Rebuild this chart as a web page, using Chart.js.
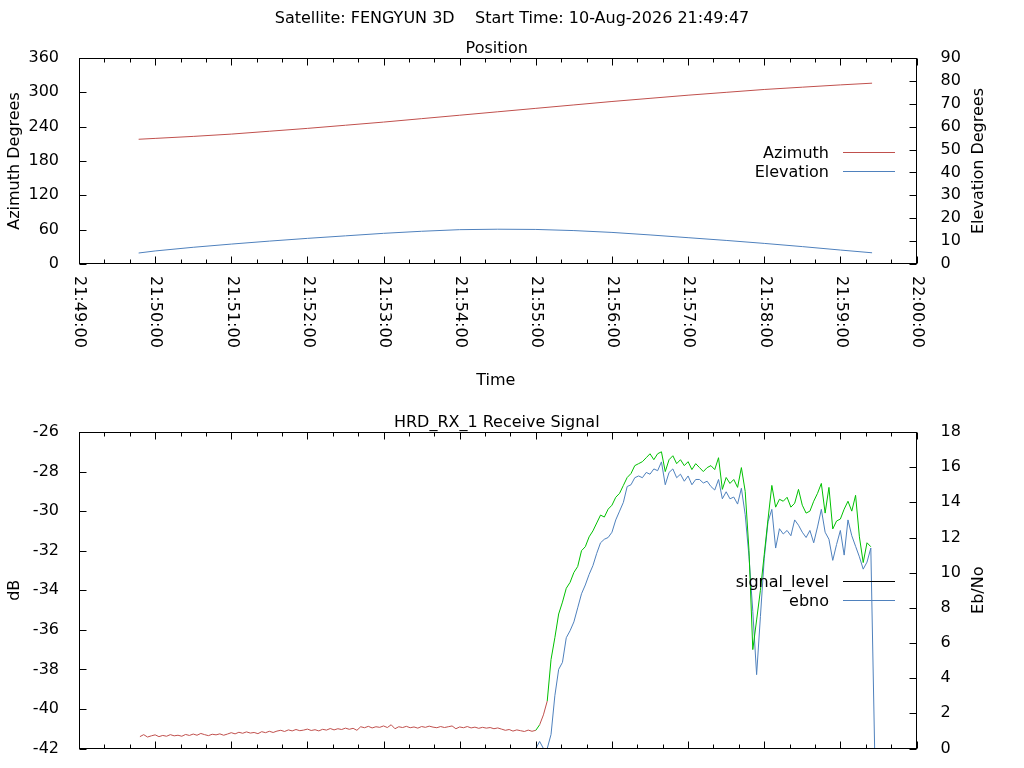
<!DOCTYPE html>
<html>
<head>
<meta charset="utf-8">
<title>FENGYUN 3D pass</title>
<script src="https://cdn.jsdelivr.net/npm/chart.js@4/dist/chart.umd.min.js"></script>
<style>
  html, body { margin: 0; padding: 0; background: #fff; }
  #wrap { position: relative; width: 1024px; height: 768px; overflow: hidden; }
  canvas { position: absolute; left: 0; }
  #posChart { top: 0; }
  #sigChart { top: 400px; }
</style>
</head>
<body>
<div id="wrap">
  <canvas id="posChart" width="1024" height="400"></canvas>
  <canvas id="sigChart" width="1024" height="400"></canvas>
</div>
<script>
// x axis is seconds after 21:49:00
const timeTicks = ['21:49:00', '21:50:00', '21:51:00', '21:52:00', '21:53:00', '21:54:00',
    '21:55:00', '21:56:00', '21:57:00', '21:58:00', '21:59:00', '22:00:00'];

// position samples
const posTimes = [47, 60, 90, 120, 150, 180, 210, 240, 270, 300, 330, 360, 390, 420,
    450, 480, 510, 540, 570, 600, 625];
const azimuth = [218, 219.5, 223, 227, 232, 237, 242.5, 248, 254, 260, 266, 272, 278, 284,
    289.5, 295, 300, 305, 309, 313, 316];
const elevation = [4.8, 5.7, 7.3, 8.7, 10.0, 11.2, 12.3, 13.4, 14.3, 15.0, 15.2, 15.1, 14.6, 13.8,
    12.7, 11.5, 10.3, 9.0, 7.6, 6.1, 4.9];

// receive signal, one sample every 3 s from 21:49:48
const sigStart = 48;
const sigStep = 3;
const signalLevel = [
    -41.40, -41.30, -41.42, -41.36, -41.31, -41.40, -41.34, -41.38, -41.30, -41.36,
    -41.33, -41.38, -41.29, -41.34, -41.27, -41.33, -41.24, -41.30, -41.35, -41.28,
    -41.31, -41.26, -41.33, -41.27, -41.20, -41.26, -41.18, -41.23, -41.16, -41.22,
    -41.19, -41.25, -41.15, -41.20, -41.13, -41.19, -41.12, -41.08, -41.14, -41.06,
    -41.11, -41.04, -41.10, -41.07, -41.02, -41.09, -41.05, -41.11, -41.03, -41.07,
    -40.99, -41.06, -41.00, -41.04, -40.97, -41.03, -40.98, -41.08, -40.90, -40.95,
    -40.88, -40.96, -40.90, -40.93, -40.86, -40.94, -40.80, -41.00, -40.90, -40.94,
    -40.88, -40.95, -40.91, -40.97, -40.89, -40.93, -40.87, -40.92, -40.95, -40.89,
    -40.94, -40.90, -40.86, -41.00, -40.91, -40.95, -40.89, -40.96, -40.92, -40.98,
    -40.93, -40.97, -40.94, -41.00, -40.96, -41.02, -41.08, -41.04, -41.12, -41.06,
    -41.10, -41.14, -41.07, -41.13, -41.08, -40.80, -40.30, -39.60, -37.50, -36.40,
    -35.20, -34.60, -33.90, -33.60, -33.10, -32.80, -32.00, -31.80, -31.30, -31.00,
    -30.60, -30.20, -30.30, -29.90, -29.70, -29.30, -29.10, -28.70, -28.30, -28.10,
    -27.70, -27.60, -27.50, -27.30, -27.10, -27.40, -27.10, -27.00, -28.00, -27.40,
    -27.20, -27.60, -27.40, -27.70, -27.50, -27.90, -27.60, -27.80, -28.00, -27.80,
    -27.70, -27.90, -27.30, -28.90, -28.30, -28.60, -28.40, -28.80, -27.80, -29.00,
    -32.00, -37.00, -35.50, -34.00, -32.20, -30.40, -28.70, -29.80, -29.40, -29.50,
    -29.30, -29.80, -29.60, -28.90, -29.70, -30.10, -30.00, -29.50, -29.10, -28.60,
    -30.10, -28.80, -30.90, -30.50, -30.40, -29.90, -29.50, -30.00, -29.20, -31.30,
    -32.60, -31.60, -31.80, null
];
// Eb/No exists from sample 104 on (modem lock)
const ebnoFrom = 104;
const ebno = [
    0, 0.4, 0, 0, 0.8, 3.0,
    4.5, 4.9, 6.3, 6.7, 7.2, 8.0, 8.8, 9.3, 9.9, 10.4,
    11.1, 11.7, 11.9, 12.0, 12.3, 13.0, 13.5, 14.0, 14.9, 15.0,
    15.4, 15.5, 15.4, 15.7, 15.6, 15.9, 15.8, 16.3, 15.0, 15.7,
    15.9, 15.4, 15.6, 15.2, 15.5, 15.0, 15.3, 15.3, 15.1, 15.2,
    14.9, 14.7, 15.3, 14.2, 14.6, 14.2, 14.3, 13.9, 14.8, 13.3,
    10.9, 7.8, 4.2, 7.5, 10.8, 12.9, 13.6, 11.4, 12.5, 12.2,
    12.4, 12.1, 13.0, 12.7, 12.3, 12.0, 12.4, 11.7, 12.6, 13.6,
    12.3, 11.9, 10.7, 11.6, 12.4, 11.0, 13.0, 12.1, 11.5, 10.9,
    10.2, 10.6, 11.4, 0
];

const RED = '#c0504d';
const BLUE = '#4f81bd';
const GREEN = '#00c000';
const FONT = '16px "DejaVu Sans"';

Chart.defaults.font.family = '"DejaVu Sans"';
Chart.defaults.font.size = 16;
Chart.defaults.color = '#000';

function sigTime(i) {
    return sigStart + i * sigStep;
}

// gnuplot style frame, inward tics, titles and key
const gnuFrame = {
    id: 'gnuFrame',
    afterDatasetsDraw(chart, args, o) {
        const { ctx, chartArea: a } = chart;
        const xs = chart.scales.x;
        const L = Math.round(a.left) + 0.5;
        const R = Math.round(a.right) - 0.5;
        const T = Math.round(a.top) + 0.5;
        const B = Math.round(a.bottom) - 0.5;

        const line = (x1, y1, x2, y2) => {
            ctx.beginPath();
            ctx.moveTo(x1, y1);
            ctx.lineTo(x2, y2);
            ctx.stroke();
        };

        ctx.save();
        ctx.strokeStyle = '#000';
        ctx.lineWidth = 1;
        ctx.strokeRect(L, T, R - L, B - T);

        for (let s = 0; s <= 660; s += 20) {
            const px = Math.round(xs.getPixelForValue(s)) + 0.5;
            const len = s % 60 === 0 ? 7 : 4;
            line(px, B, px, B - len);
            line(px, T, px, T + len);
        }
        chart.scales.y.ticks.forEach(t => {
            const py = Math.round(chart.scales.y.getPixelForValue(t.value)) + 0.5;
            line(L, py, L + 7, py);
        });
        chart.scales.y2.ticks.forEach(t => {
            const py = Math.round(chart.scales.y2.getPixelForValue(t.value)) + 0.5;
            line(R, py, R - 7, py);
        });

        ctx.fillStyle = '#000';
        ctx.font = FONT;
        const midX = (a.left + a.right) / 2;
        const midY = (a.top + a.bottom) / 2;

        if (o.heading) {
            ctx.textAlign = 'center';
            ctx.textBaseline = 'alphabetic';
            ctx.fillText(o.heading, 512, 23);
        }
        ctx.textAlign = 'center';
        ctx.textBaseline = 'alphabetic';
        ctx.fillText(o.title, midX - 1, a.top - 5);

        if (o.xTitle) {
            ctx.fillText(o.xTitle, midX - 2, 385);
        }

        ctx.save();
        ctx.translate(18.5, midY);
        ctx.rotate(-Math.PI / 2);
        ctx.fillText(o.yTitle, 0, 0);
        ctx.restore();

        ctx.save();
        ctx.translate(982.5, midY);
        ctx.rotate(-Math.PI / 2);
        ctx.fillText(o.y2Title, 0, 0);
        ctx.restore();

        if (o.timeLabels) {
            ctx.textAlign = 'left';
            ctx.textBaseline = 'middle';
            timeTicks.forEach((lbl, i) => {
                const px = xs.getPixelForValue(i * 60);
                ctx.save();
                ctx.translate(px + 0.5, a.bottom + 12);
                ctx.rotate(Math.PI / 2);
                ctx.fillText(lbl, 0, 0);
                ctx.restore();
            });
        }

        // key
        ctx.textAlign = 'right';
        ctx.textBaseline = 'alphabetic';
        o.legend.forEach((item, i) => {
            const y = Math.round(midY - 9.5 + 19 * i) + 0.5;
            ctx.fillStyle = '#000';
            ctx.fillText(item.label, 829, y + 5.5);
            ctx.strokeStyle = item.color;
            line(843, y, 895, y);
        });
        ctx.restore();
    }
};

function axisX(height) {
    return {
        type: 'linear',
        min: 0,
        max: 660,
        ticks: { display: false },
        grid: { display: false },
        border: { display: false },
        afterFit(scale) { scale.height = height; }
    };
}

function axisY(pos, min, max, step, width, pad) {
    return {
        type: 'linear',
        position: pos,
        min: min,
        max: max,
        ticks: { stepSize: step, padding: pad, font: { size: 16 } },
        grid: { display: false },
        border: { display: false },
        afterFit(scale) { scale.width = width; }
    };
}

new Chart(document.getElementById('posChart'), {
    type: 'line',
    data: {
        datasets: [
            {
                label: 'Azimuth',
                data: posTimes.map((t, i) => ({ x: t, y: azimuth[i] })),
                borderColor: RED,
                borderWidth: 1,
                pointRadius: 0,
                yAxisID: 'y'
            },
            {
                label: 'Elevation',
                data: posTimes.map((t, i) => ({ x: t, y: elevation[i] })),
                borderColor: BLUE,
                borderWidth: 1,
                pointRadius: 0,
                yAxisID: 'y2'
            }
        ]
    },
    options: {
        responsive: false,
        animation: false,
        layout: { padding: { top: 58, left: 0, right: 0, bottom: 0 } },
        scales: {
            x: axisX(136),
            y: axisY('left', 0, 360, 60, 79, 12),
            y2: axisY('right', 0, 90, 10, 107.5, 16)
        },
        plugins: {
            legend: { display: false },
            tooltip: { enabled: false },
            gnuFrame: {
                heading: 'Satellite: FENGYUN 3D    Start Time: 10-Aug-2026 21:49:47',
                title: 'Position',
                xTitle: 'Time',
                yTitle: 'Azimuth Degrees',
                y2Title: 'Elevation Degrees',
                timeLabels: true,
                legend: [
                    { label: 'Azimuth', color: RED },
                    { label: 'Elevation', color: BLUE }
                ]
            }
        }
    },
    plugins: [gnuFrame]
});

// canvas runs past the window bottom; its time labels would sit off screen
new Chart(document.getElementById('sigChart'), {
    type: 'line',
    data: {
        datasets: [
            {
                label: 'signal_level',
                data: signalLevel.map((v, i) => ({ x: sigTime(i), y: v })),
                borderColor: RED,
                borderWidth: 1,
                pointRadius: 0,
                yAxisID: 'y',
                segment: {
                    // green while the modem reports Eb/No
                    borderColor: c => (ebno[c.p1DataIndex - ebnoFrom] > 0 ? GREEN : RED)
                }
            },
            {
                label: 'ebno',
                data: ebno.map((v, i) => ({ x: sigTime(i + ebnoFrom), y: v })),
                borderColor: BLUE,
                borderWidth: 1,
                pointRadius: 0,
                yAxisID: 'y2'
            }
        ]
    },
    options: {
        responsive: false,
        animation: false,
        layout: { padding: { top: 32, left: 0, right: 0, bottom: 0 } },
        scales: {
            x: axisX(51.5),
            y: axisY('left', -42, -26, 2, 79, 12),
            y2: axisY('right', 0, 18, 2, 107.5, 16)
        },
        plugins: {
            legend: { display: false },
            tooltip: { enabled: false },
            gnuFrame: {
                title: 'HRD_RX_1 Receive Signal',
                yTitle: 'dB',
                y2Title: 'Eb/No',
                timeLabels: false,
                legend: [
                    { label: 'signal_level', color: '#000' },
                    { label: 'ebno', color: BLUE }
                ]
            }
        }
    },
    plugins: [gnuFrame]
});
</script>
</body>
</html>
